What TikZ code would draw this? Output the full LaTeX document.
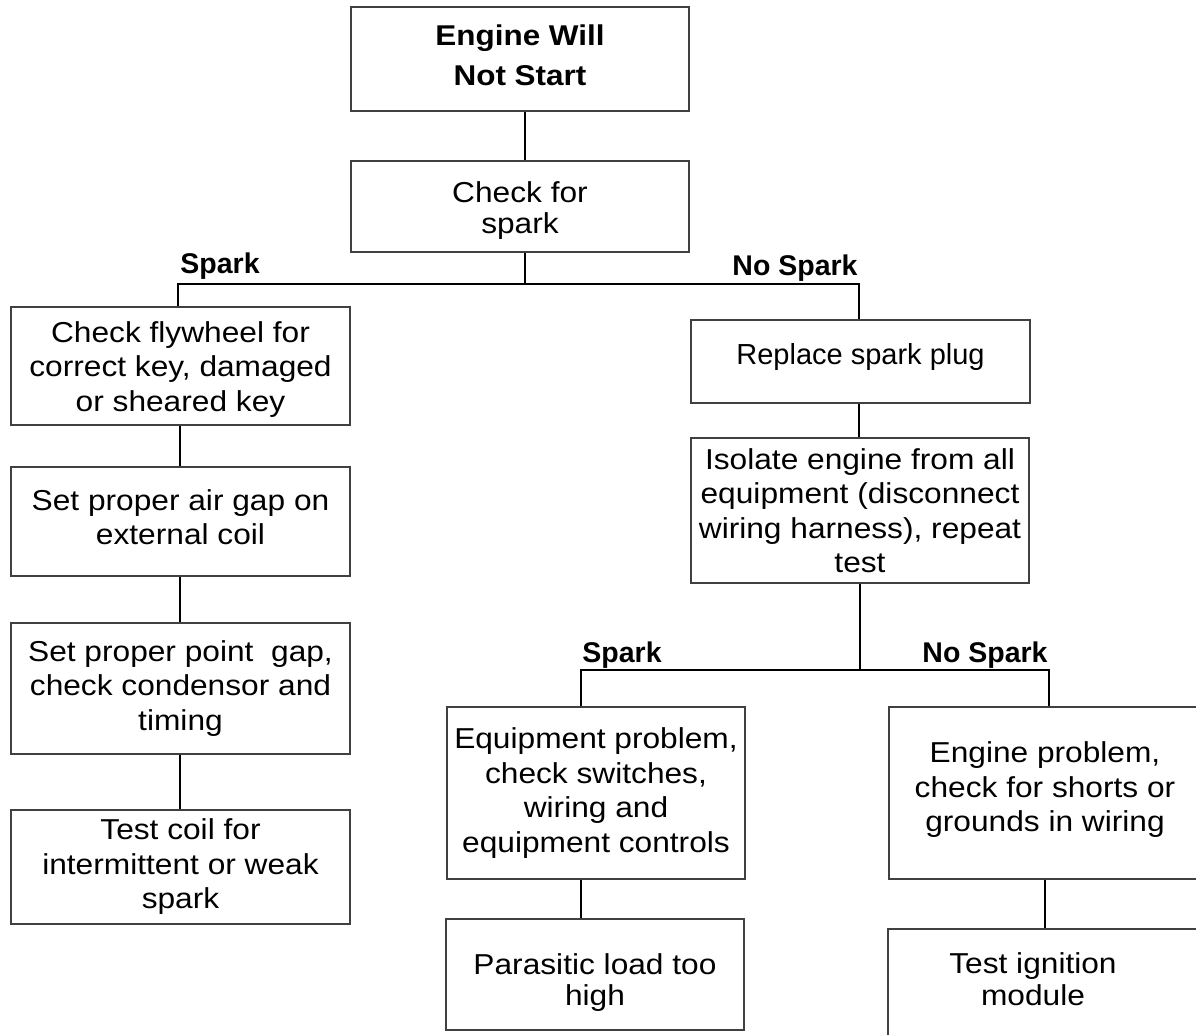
\documentclass[tikz,border=0pt]{standalone}
\usepackage{fontspec}
\setmainfont{Liberation Sans}[FakeStretch=1.1]
\newfontfamily\plainsans{Liberation Sans}
\definecolor{boxgray}{HTML}{404040}
\newcommand\dstrut[1]{\rule[-#1]{0pt}{0pt}}
\newcommand\hstrut[1]{\rule{0pt}{#1}}
\begin{document}
\begin{tikzpicture}[x=1pt,y=-1pt,
  box/.style={draw=boxgray, line width=1.2pt, inner sep=0pt, align=center,
    font=\fontsize{28.8}{34.5}\selectfont},
  conn/.style={draw=black, line width=2pt},
  lbl/.style={font=\plainsans\bfseries\fontsize{28.5}{34}\selectfont, anchor=base, inner sep=0pt}]
\useasboundingbox (0,0) rectangle (1196,1034);
\clip (0,0) rectangle (1196,1034);

% boxes
\node[box, minimum width=338pt, minimum height=104pt,
  font=\bfseries\fontsize{28.6}{40}\selectfont] (title) at (520,59) {Engine Will\\Not Start\dstrut{7pt}};
\node[box, minimum width=338pt, minimum height=91pt,
  font=\fontsize{28.8}{31}\selectfont] (check) at (520,206.5) {\hstrut{29pt}Check for\\spark};
\node[box, minimum width=339pt, minimum height=118pt] (fly) at (180.5,366) {\hstrut{27pt}Check flywheel for\\correct key, damaged\\or sheared key};
\node[box, minimum width=339pt, minimum height=109pt] (air) at (180.5,521.5) {Set proper air gap on\\external coil\dstrut{9pt}};
\node[box, minimum width=339pt, minimum height=131pt] (pt) at (180.5,688.5) {Set proper point~ gap,\\check condensor and\\timing};
\node[box, minimum width=339pt, minimum height=114pt] (coil) at (180.5,867) {Test coil for\\intermittent or weak\\spark};
\node[box, minimum width=339pt, minimum height=83pt,
  font=\plainsans\fontsize{29}{34.5}\selectfont] (rep) at (860.5,361.5) {Replace spark plug\dstrut{16pt}};
\node[box, minimum width=338pt, minimum height=145pt] (iso) at (860,510.5) {Isolate engine from all\\equipment (disconnect\\wiring harness), repeat\\test};
\node[box, minimum width=298pt, minimum height=172pt] (equip) at (596,793) {Equipment problem,\\check switches,\\wiring and\\equipment controls};
\node[box, minimum width=312pt, minimum height=172pt] (eng) at (1045,793) {Engine problem,\\check for shorts or\\grounds in wiring\dstrut{12pt}};
\node[box, minimum width=298pt, minimum height=111pt,
  font=\fontsize{28.8}{30.5}\selectfont] (par) at (595,974.5) {\hstrut{37pt}Parasitic load too\\high};
\node[box, minimum width=316pt, minimum height=142pt] (ign) at (1046,1000) {};
\node[box, draw=none, font=\fontsize{28.8}{32}\selectfont] (igntext) at (1033,979) {Test ignition\\module};

% connectors
\coordinate (b1) at (525,284);
\coordinate (bl) at (178,284);
\coordinate (br) at (859,284);
\coordinate (lx) at (180,0);
\coordinate (b2) at (860,670);
\coordinate (sl) at (581,670);
\coordinate (sr) at (1049,670);
\coordinate (ex) at (1045,0);
\draw[conn] (title.south -| b1) -- (check.north -| b1);
\draw[conn] (check.south -| b1) -- (b1);
\draw[conn] (fly.north -| bl) -- (bl) -- (br) -- (rep.north -| br);
\draw[conn] (fly.south -| lx) -- (air.north -| lx);
\draw[conn] (air.south -| lx) -- (pt.north -| lx);
\draw[conn] (pt.south -| lx) -- (coil.north -| lx);
\draw[conn] (rep.south -| br) -- (iso.north -| br);
\draw[conn] (iso.south -| b2) -- (b2);
\draw[conn] (equip.north -| sl) -- (sl) -- (sr) -- (eng.north -| sr);
\draw[conn] (equip.south -| sl) -- (par.north -| sl);
\draw[conn] (eng.south -| ex) -- (ign.north -| ex);

% branch labels
\node[lbl] (lspark) at (220,273) {Spark};
\node[lbl] (lnospark) at (795,275) {No Spark};
\node[lbl] (lspark2) at (622,662) {Spark};
\node[lbl] (lnospark2) at (985,662) {No Spark};
\end{tikzpicture}
\end{document}
